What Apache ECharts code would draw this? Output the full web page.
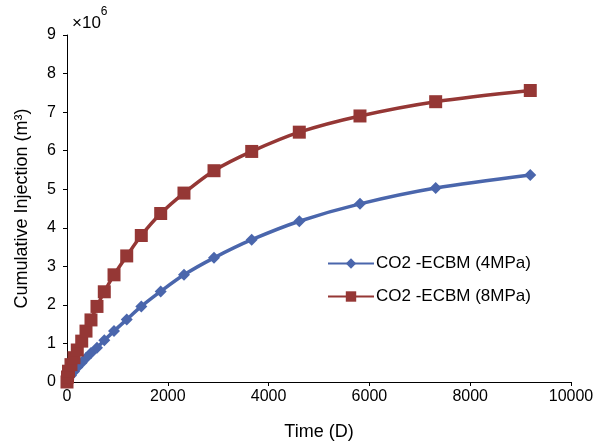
<!DOCTYPE html>
<html>
<head>
<meta charset="utf-8">
<script src="https://cdn.jsdelivr.net/npm/echarts@6/dist/echarts.min.js"></script>
<style>
html,body{margin:0;padding:0;background:#fff;}
#chart{width:599px;height:447px;}
</style>
</head>
<body>
<div id="chart"></div>
<script>
// Time (days)
var timeDays = [0, 10, 30, 79, 139, 204, 292, 377, 476, 595, 740, 933, 1185, 1474, 1859, 2321, 2917, 3665, 4609, 5813, 7315, 9192];
// Cumulative injection (x10^6 m3)
var inj4MPa = [0, 0.03, 0.08, 0.17, 0.27, 0.38, 0.50, 0.62, 0.75, 0.89, 1.08, 1.32, 1.62, 1.96, 2.35, 2.78, 3.22, 3.69, 4.17, 4.62, 5.03, 5.37];
var inj8MPa = [0, 0.13, 0.28, 0.45, 0.63, 0.83, 1.06, 1.32, 1.61, 1.96, 2.34, 2.78, 3.27, 3.80, 4.37, 4.90, 5.48, 5.98, 6.48, 6.90, 7.27, 7.56];
var seriesNames = ['CO2 -ECBM (4MPa)', 'CO2 -ECBM (8MPa)'];
var xTicks = [0, 2000, 4000, 6000, 8000, 10000];
var yTicks = [0, 1, 2, 3, 4, 5, 6, 7, 8, 9];

function pairs(xs, ys) { return xs.map(function (x, i) { return [x, ys[i]]; }); }

var FONT = 'Liberation Sans, Arial, sans-serif';
var chart = echarts.init(document.getElementById('chart'), null, {renderer: 'canvas'});
chart.setOption({
  animation: false,
  backgroundColor: '#ffffff',
  grid: {left: 67, right: 28, top: 35, bottom: 65, containLabel: false},
  xAxis: {
    type: 'value', min: xTicks[0], max: xTicks[xTicks.length - 1], interval: 2000,
    name: 'Time (D)', nameLocation: 'middle', nameGap: 41,
    nameTextStyle: {fontFamily: FONT, fontSize: 18, color: '#000'},
    axisLine: {show: true, lineStyle: {color: '#000', width: 1}},
    axisTick: {show: true, inside: false, length: 4, lineStyle: {color: '#000'}},
    axisLabel: {fontFamily: FONT, fontSize: 16, color: '#000', margin: 7,
      formatter: function (v) { return String(v); }},
    splitLine: {show: false}
  },
  yAxis: {
    type: 'value', min: yTicks[0], max: yTicks[yTicks.length - 1], interval: 1,
    name: 'Cumulative Injection (m³)', nameLocation: 'middle', nameGap: 36, nameRotate: 90,
    nameTextStyle: {fontFamily: FONT, fontSize: 18, color: '#000'},
    axisLine: {show: true, lineStyle: {color: '#000', width: 1}},
    axisTick: {show: true, inside: false, length: 4, lineStyle: {color: '#000'}},
    axisLabel: {fontFamily: FONT, fontSize: 16, color: '#000', margin: 11},
    splitLine: {show: false}
  },
  legend: {
    left: 322, top: 250, orient: 'vertical',
    itemWidth: 46, itemHeight: 13, itemGap: 16,
    textStyle: {fontFamily: FONT, fontSize: 17, color: '#000', padding: [0, 0, 0, -3]},
    data: seriesNames
  },
  graphic: [{
    type: 'text', left: 72, top: 6,
    style: {
      text: '{a|×10}{b|6}', fill: '#000',
      rich: {
        a: {fontFamily: FONT, fontSize: 17, fill: '#000', padding: [9, 0, 0, 0]},
        b: {fontFamily: FONT, fontSize: 12, fill: '#000', verticalAlign: 'top'}
      }
    }
  }],
  series: [{
    name: seriesNames[0], type: 'line', smooth: 0.3,
    data: pairs(timeDays, inj4MPa),
    symbol: 'diamond', symbolSize: 12,
    lineStyle: {color: '#4A66AC', width: 3.5},
    itemStyle: {color: '#4A66AC'}
  }, {
    name: seriesNames[1], type: 'line', smooth: 0.3,
    data: pairs(timeDays, inj8MPa),
    symbol: 'rect', symbolSize: 13,
    lineStyle: {color: '#953735', width: 3.5},
    itemStyle: {color: '#953735'}
  }]
});
</script>
</body>
</html>
